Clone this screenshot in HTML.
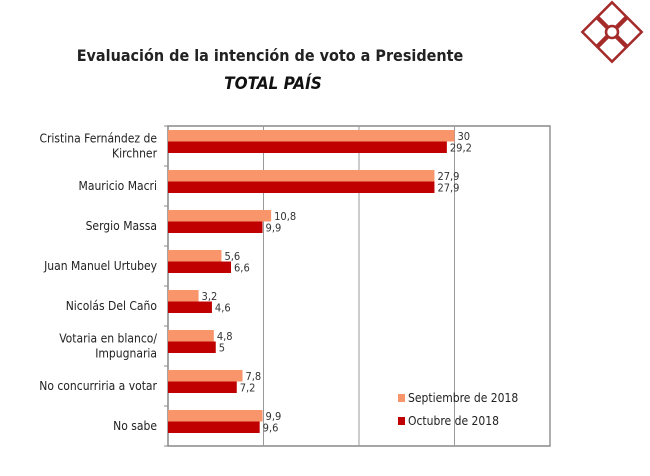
<!DOCTYPE html>
<html><head><meta charset="utf-8"><style>
body{margin:0;background:#fff;}
#wrap{position:relative;width:650px;height:476px;overflow:hidden;font-family:"DejaVu Sans Condensed","Liberation Sans",sans-serif;}
</style></head><body>
<div id="wrap">
<svg id="svg" width="650" height="476">
  <g transform="translate(612,32) rotate(45)" fill="none" stroke="#a52a2a" stroke-width="2.5">
    <rect x="-21" y="-21" width="20" height="20"/>
    <rect x="1" y="-21" width="20" height="20"/>
    <rect x="-21" y="1" width="20" height="20"/>
    <rect x="1" y="1" width="20" height="20"/>
    <circle cx="0" cy="0" r="6" fill="#fff"/>
  </g>
  <text x="270" y="61" text-anchor="middle" font-size="16" font-weight="bold" fill="#222">Evaluación de la intención de voto a Presidente</text>
  <text x="273" y="89" text-anchor="middle" font-size="17" font-weight="bold" font-style="italic" fill="#111">TOTAL PAÍS</text>
  <g id="plot"></g>
</svg>
</div>
<script>
const categories=[["Cristina Fernández de","Kirchner"],["Mauricio Macri"],["Sergio Massa"],["Juan Manuel Urtubey"],["Nicolás Del Caño"],["Votaria en blanco/","Impugnaria"],["No concurriria a votar"],["No sabe"]];
const septValues=[30,27.9,10.8,5.6,3.2,4.8,7.8,9.9];
const octValues=[29.2,27.9,9.9,6.6,4.6,5,7.2,9.6];
const septLabels=["30","27,9","10,8","5,6","3,2","4,8","7,8","9,9"];
const octLabels=["29,2","27,9","9,9","6,6","4,6","5","7,2","9,6"];
const gridTicks=[10,20,30,40];
const seriesNames=["Septiembre de 2018","Octubre de 2018"];

const NS="http://www.w3.org/2000/svg";
const g=document.getElementById('plot');
const L=168,R=550,T=126,B=446,MAX=40;
const x=v=>L+v/MAX*(R-L);
const band=(B-T)/categories.length;
const y=i=>T+i*band;
function mk(tag,a){const e=document.createElementNS(NS,tag);for(const k in a)e.setAttribute(k,a[k]);g.appendChild(e);return e;}
const frame=mk('rect',{x:L,y:T,width:R-L,height:B-T,fill:'none',stroke:'#888','stroke-width':1.5});


gridTicks.forEach(t=>{const l=mk('line',{x1:x(t),x2:x(t),y1:T,y2:B,stroke:'#999','stroke-width':1});

});
for(let i=0;i<=categories.length;i++){const tk=mk('line',{x1:L-4,x2:L,y1:y(i),y2:y(i),stroke:'#888'});

}
categories.forEach((c,i)=>{
  const top=y(i)+4,h=11.5;
  const b1=mk('rect',{x:L,y:top,width:x(septValues[i])-L,height:h,fill:'#f8956a'});
  
  
  const b2=mk('rect',{x:L,y:top+h,width:x(octValues[i])-L,height:h,fill:'#c00000'});
  
  
  const t1=mk('text',{x:x(septValues[i])+3,y:top+10,'font-size':11,fill:'#333'});t1.textContent=septLabels[i];
  
  
  const t2=mk('text',{x:x(octValues[i])+3,y:top+h+10,'font-size':11,fill:'#333'});t2.textContent=octLabels[i];
  
  
  const cy=y(i)+band/2;
  const lines=c;
  lines.forEach((s,j)=>{const t=mk('text',{x:157,y:cy+4+(j-(lines.length-1)/2)*15,'text-anchor':'end','font-size':12,fill:'#222'});t.textContent=s;
  
  });
});
const colors=['#f8956a','#c00000'];
seriesNames.forEach((n,k)=>{
  const ly=394+k*23;
  const s=mk('rect',{x:398,y:ly,width:7,height:8,fill:colors[k]});
  
  
  const t=mk('text',{x:408,y:ly+8,'font-size':12,fill:'#222'});t.textContent=n;
  
  
});
</script>
</body></html>
